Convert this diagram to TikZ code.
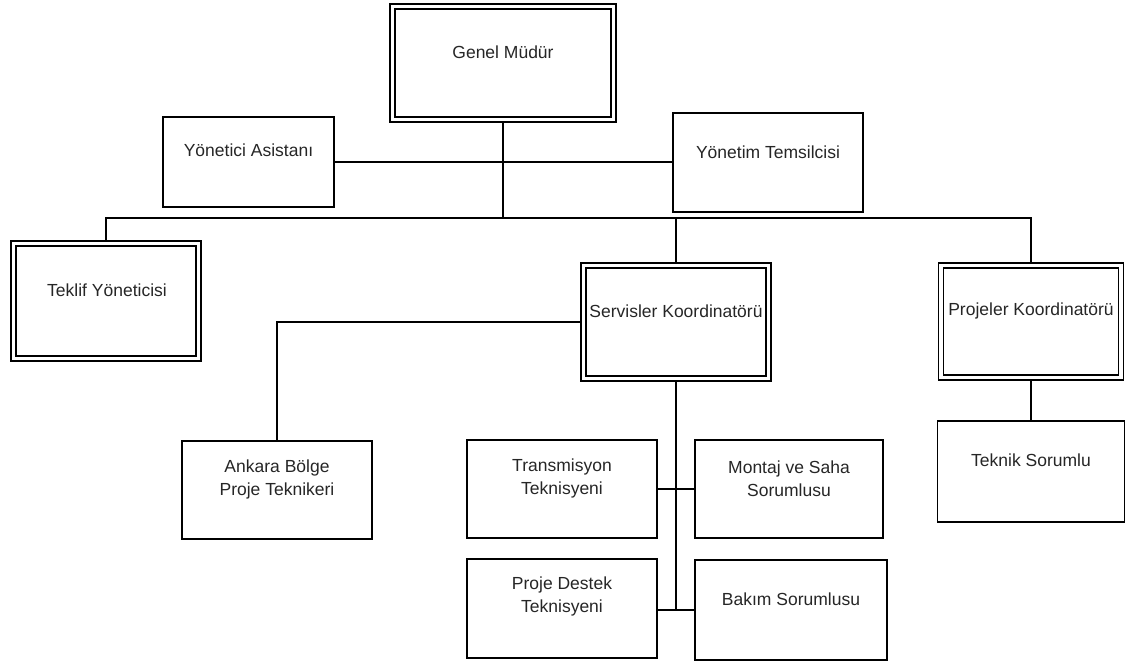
\documentclass[tikz,border=0pt]{standalone}
\usepackage{fontspec}
\setmainfont{Liberation Sans}
\usetikzlibrary{backgrounds}
\begin{document}
\begin{tikzpicture}[x=1pt,y=-1pt,
  box/.style={draw, line width=1.3pt, inner sep=0pt},
  dbox/.style={draw, line width=1.9pt, inner sep=0pt,
    path picture={\draw[line width=1.2pt]
      ([shift={(5pt,-5pt)}]path picture bounding box.north west) rectangle
      ([shift={(-5pt,5pt)}]path picture bounding box.south east);}},
  lbl/.style={font=\fontsize{17.5}{23}\selectfont, align=center, inner sep=0pt, text=black!85},
  conn/.style={line width=1.2pt}]
\useasboundingbox (0,0) rectangle (1125,662);

% boxes
\node[dbox, minimum width=226pt, minimum height=118pt] (gm) at (503,63) {};
\node[box, minimum width=171pt, minimum height=90pt] (ya) at (248.5,162) {};
\node[box, minimum width=190pt, minimum height=99pt] (yt) at (768,162.5) {};
\node[dbox, minimum width=190pt, minimum height=120pt] (ty) at (106,301) {};
\node[dbox, minimum width=190pt, minimum height=118pt] (sk) at (676,322) {};
\node[dbox, minimum width=185pt, minimum height=117pt] (pk) at (1031,321.5) {};
\node[box, minimum width=187pt, minimum height=101pt] (ts) at (1031,471.5) {};
\node[box, minimum width=190pt, minimum height=98pt] (an) at (277,490) {};
\node[box, minimum width=190pt, minimum height=98pt] (tr) at (562,489) {};
\node[box, minimum width=188pt, minimum height=98pt] (ms) at (789,489) {};
\node[box, minimum width=190pt, minimum height=99pt] (pd) at (562,608.5) {};
\node[box, minimum width=192pt, minimum height=100pt] (bk) at (791,610) {};

% labels
\node[lbl] (gmT) at (503,52) {Genel Müdür};
\node[lbl] (yaT) at (248.5,150) {Yönetici Asistanı};
\node[lbl] (ytT) at (768,152) {Yönetim Temsilcisi};
\node[lbl] (tyT) at (107,290) {Teklif Yöneticisi};
\node[lbl] (skT) at (676,311) {Servisler Koordinatörü};
\node[lbl] (pkT) at (1031,311) {Projeler Koordinatörü};
\node[lbl] (tsT) at (1031,460) {Teknik Sorumlu};
\node[lbl] (anT) at (277,479) {Ankara Bölge\\Proje Teknikeri};
\node[lbl] (trT) at (562,478.5) {Transmisyon\\Teknisyeni};
\node[lbl] (msT) at (789,478.5) {Montaj ve Saha\\Sorumlusu};
\node[lbl] (pdT) at (562,596.5) {Proje Destek\\Teknisyeni};
\node[lbl] (bkT) at (791,599) {Bakım Sorumlusu};

\coordinate (bus) at (503,218);

\begin{scope}[on background layer]
\draw[conn] (gm.south) -- (bus);
\draw[conn] (ya.east) -- (ya.east -| yt.west);
\draw[conn] (ty.north) |- (bus) -| (pk.north);
\draw[conn] (bus -| sk.north) -- (sk.north);
\draw[conn] (sk.west) -| (an.north);
\draw[conn] (pk.south) -- (pk.south |- ts.north);
\draw[conn] (sk.south) -- (sk.south |- bk.west);
\draw[conn] (tr.east) -- (ms.west);
\draw[conn] (pd.east |- bk.west) -- (bk.west);
\end{scope}
\end{tikzpicture}
\end{document}
